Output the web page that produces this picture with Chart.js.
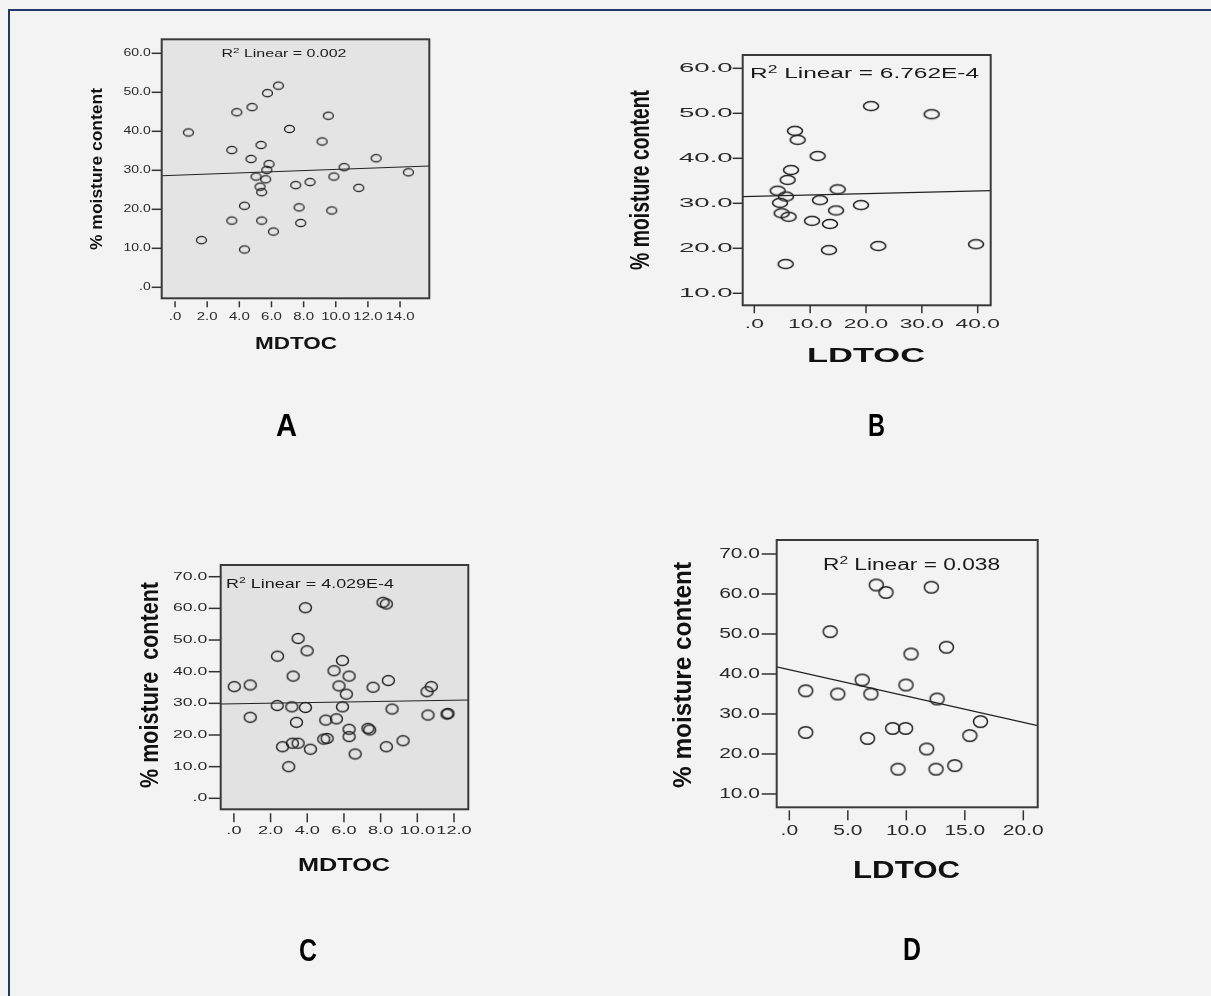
<!DOCTYPE html>
<html>
<head>
<meta charset="utf-8">
<script src="https://cdn.jsdelivr.net/npm/chart.js@4.4.1/dist/chart.umd.min.js"></script>
<style>
html,body{margin:0;padding:0;background:#f3f3f3;width:1211px;height:996px;overflow:hidden;position:relative;}
#frame{position:absolute;left:8px;top:9px;width:1400px;height:1200px;border-left:2px solid #1f3864;border-top:2px solid #1f3864;box-sizing:border-box;}
canvas{position:absolute;left:0;top:0;}
</style>
</head>
<body>
<div id="frame"></div>
<canvas id="cA" width="1211" height="996"></canvas>
<canvas id="cB" width="1211" height="996"></canvas>
<canvas id="cC" width="1211" height="996"></canvas>
<canvas id="cD" width="1211" height="996"></canvas>
<script>
// ---------------- DATA ----------------
// Panel A: MDTOC vs % moisture content
const aX = [0.83,1.64,3.84,4.79,5.75,6.43,3.53,4.73,5.35,5.85,5.71,5.04,5.64,5.29,5.39,4.32,3.53,4.32,5.39,6.12,7.12,7.51,8.40,7.72,7.82,9.15,9.54,9.88,9.75,10.52,11.43,12.51,14.52];
const aY = [39.7,12.1,44.9,46.2,49.8,51.7,35.2,32.9,36.5,31.6,30.1,28.4,27.7,25.8,24.4,20.9,17.1,9.7,17.1,14.3,40.6,26.2,27.0,20.5,16.5,37.4,44.0,28.4,19.7,30.8,25.5,33.1,29.5];
const aFitX = [-0.83, 15.82];
const aFitY = [28.6, 31.1];
const aXTicks = [0,2,4,6,8,10,12,14];
const aYTicks = [0,10,20,30,40,50,60];
const aR2 = "0.002";

// Panel B: LDTOC vs % moisture content
const bX = [4.18,4.6,4.9,5.67,6.15,5.97,6.57,7.28,7.76,5.61,10.33,11.34,11.76,13.55,14.63,14.93,13.37,19.1,20.9,22.2,31.76,39.7];
const bY = [32.8,30.1,27.8,31.5,27.0,35.2,37.4,46.1,44.1,16.5,26.1,40.5,30.7,25.4,28.4,33.1,19.6,29.6,51.6,20.5,49.8,20.9];
const bFitX = [-2.08, 42.33];
const bFitY = [31.5, 32.8];
const bXTicks = [0,10,20,30,40];
const bYTicks = [10,20,30,40,50,60];
const bR2 = "6.762E-4";

// Panel C: MDTOC vs % moisture content
const cX = [0.02,0.89,0.89,2.38,2.36,2.65,2.99,3.16,3.23,3.50,3.41,3.19,3.50,3.90,3.99,3.90,4.17,5.01,4.90,5.08,5.46,5.59,5.92,5.73,6.13,5.92,6.28,6.28,6.28,6.61,7.31,7.40,7.59,8.13,8.31,8.42,8.31,8.62,9.22,10.53,10.76,10.58,11.62,11.67];
const cY = [35.3,35.8,25.6,44.9,29.3,16.3,10.0,28.9,38.6,50.5,24.0,17.4,17.4,60.2,46.6,28.7,15.5,24.7,18.7,18.9,40.3,25.1,43.5,35.5,32.9,28.9,38.6,21.8,19.5,14.0,22.1,21.6,35.1,61.9,61.4,37.2,16.3,28.2,18.2,33.7,35.3,26.3,26.6,26.8];
const cFitX = [-0.72, 12.78];
const cFitY = [29.8, 31.05];
const cXTicks = [0,2,4,6,8,10,12];
const cYTicks = [0,10,20,30,40,50,60,70];
const cR2 = "4.029E-4";

// Panel D: LDTOC vs % moisture content
const dX = [1.4,1.4,3.49,4.14,6.23,6.97,6.69,7.43,8.26,8.83,9.94,9.29,9.97,10.4,12.14,11.74,12.63,12.54,13.43,14.14,15.43,16.34];
const dY = [35.8,25.4,50.6,35.0,38.5,35.0,23.9,62.25,60.4,26.4,26.4,16.2,37.25,45.0,61.7,21.25,33.75,16.2,46.7,17.1,24.6,28.1];
const dFitX = [-1.08, 21.23];
const dFitY = [41.8, 27.1];
const dXTicks = [0,5,10,15,20];
const dYTicks = [10,20,30,40,50,60,70];
const dR2 = "0.038";

const yTitleText = "% moisture content";

// ---------------- LAYOUT / STYLE ----------------
const W = 1211, H = 996;
const FONT = '"Liberation Sans", Arial, sans-serif';

const panels = [
  { canvas:'cA', xs:aX, ys:aY, fitX:aFitX, fitY:aFitY, xTicks:aXTicks, yTicks:aYTicks, r2:aR2,
    xTitle:'MDTOC', yTitle:yTitleText, letter:'A',
    box:{l:161.7,t:39.3,r:429.3,b:298.3}, xr:[-0.83,15.82], yr:[-2.82,63.59], fill:'#e4e4e4',
    pt:{rx:5,ry:3.6,lw:1.3},
    yTick:{font:10,sx:1.4,len:10,gap:11}, xTick:{font:10,sx:1.5,start:3,len:6,labelY:317},
    yT:{font:17,len:162,cx:95.5,cy:169}, xT:{font:16,len:82,cx:296,cy:343},
    r2s:{font:11,w:125,x:284,cy:53.5,align:'center'}, let:{cx:286.5,cy:424.5,w:21} },
  { canvas:'cB', xs:bX, ys:bY, fitX:bFitX, fitY:bFitY, xTicks:bXTicks, yTicks:bYTicks, r2:bR2,
    xTitle:'LDTOC', yTitle:yTitleText, letter:'B',
    box:{l:742.7,t:55,r:990.7,b:305.3}, xr:[-2.08,42.33], yr:[7.33,62.96], fill:null,
    pt:{rx:7.5,ry:4.5,lw:1.6},
    yTick:{font:12,sx:2.3,len:10,gap:10}, xTick:{font:12,sx:1.9,start:0,len:8,labelY:325},
    yT:{font:28,len:180,cx:639,cy:180}, xT:{font:20,len:118,cx:866,cy:354.5},
    r2s:{font:14,w:229,x:750,cy:73,align:'left'}, let:{cx:876.5,cy:425,w:17} },
  { canvas:'cC', xs:cX, ys:cY, fitX:cFitX, fitY:cFitY, xTicks:cXTicks, yTicks:cYTicks, r2:cR2,
    xTitle:'MDTOC', yTitle:'% moisture  content', letter:'C',
    box:{l:220.7,t:565,r:468.3,b:809.3}, xr:[-0.72,12.78], yr:[-3.47,73.7], fill:'#e2e2e2',
    pt:{rx:6,ry:5,lw:1.4},
    yTick:{font:11,sx:1.6,len:12,gap:13.4}, xTick:{font:11,sx:1.65,start:4,len:9,labelY:831},
    yT:{font:26,len:206,cx:148.5,cy:685}, xT:{font:18,len:92,cx:344,cy:864.5},
    r2s:{font:13,w:168,x:226,cy:583.5,align:'left'}, let:{cx:308,cy:950,w:18} },
  { canvas:'cD', xs:dX, ys:dY, fitX:dFitX, fitY:dFitY, xTicks:dXTicks, yTicks:dYTicks, r2:dR2,
    xTitle:'LDTOC', yTitle:yTitleText, letter:'D',
    box:{l:776.7,t:540,r:1037.7,b:807.3}, xr:[-1.08,21.23], yr:[6.67,73.5], fill:null,
    pt:{rx:7,ry:5.8,lw:1.5},
    yTick:{font:14,sx:1.5,len:15,gap:16.7}, xTick:{font:14,sx:1.5,start:3,len:10,labelY:831.5},
    yT:{font:25,len:226,cx:682.5,cy:675}, xT:{font:23,len:107,cx:906.5,cy:869.5},
    r2s:{font:16,w:177,x:823,cy:564,align:'left'}, let:{cx:912,cy:948.5,w:18} }
];

function fmt(v){ return v === 0 ? '.0' : v.toFixed(1); }

function makeEllipse(rx, ry, lw, color){
  const c = document.createElement('canvas');
  c.width = Math.ceil(2*rx + lw + 3); c.height = Math.ceil(2*ry + lw + 3);
  const g = c.getContext('2d');
  g.strokeStyle = color; g.lineWidth = lw;
  g.beginPath(); g.ellipse(c.width/2, c.height/2, rx, ry, 0, 0, Math.PI*2); g.stroke();
  return c;
}

// draw text with horizontal stretch factor sx (in text direction)
function stretchText(ctx, text, x, y, font, sx, align, baseline, rot){
  ctx.save();
  ctx.translate(x, y);
  if (rot) ctx.rotate(-Math.PI/2);
  ctx.scale(sx, 1);
  ctx.font = font; ctx.textAlign = align; ctx.textBaseline = baseline;
  ctx.fillText(text, 0, 0);
  ctx.restore();
}
function fitText(ctx, text, cx, cy, font, targetLen, rot, capRatio, size){
  ctx.save();
  ctx.font = font;
  const w = ctx.measureText(text).width;
  const sx = targetLen / w;
  ctx.translate(cx, cy);
  if (rot) ctx.rotate(-Math.PI/2);
  ctx.scale(sx, 1);
  ctx.textAlign = 'center'; ctx.textBaseline = 'alphabetic';
  ctx.fillText(text, 0, size*0.358);
  ctx.restore();
}

const panelPlugin = {
  id: 'panel',
  beforeDatasetsDraw(chart){
    const p = chart.options.plugins.panel.cfg;
    const ctx = chart.ctx, a = chart.chartArea;
    if (p.fill){ ctx.save(); ctx.fillStyle = p.fill; ctx.fillRect(a.left, a.top, a.right-a.left, a.bottom-a.top); ctx.restore(); }
  },
  afterDatasetsDraw(chart){
    const p = chart.options.plugins.panel.cfg;
    const ctx = chart.ctx, a = chart.chartArea;
    const xs = chart.scales.x, ys = chart.scales.y;
    ctx.save();
    // box
    ctx.strokeStyle = '#3a3a3a'; ctx.lineWidth = 2;
    ctx.strokeRect(a.left, a.top, a.right-a.left, a.bottom-a.top);
    // y ticks
    ctx.strokeStyle = '#333'; ctx.lineWidth = 1.5; ctx.fillStyle = '#2a2a2a';
    p.yTicks.forEach(v => {
      const py = ys.getPixelForValue(v);
      ctx.beginPath(); ctx.moveTo(a.left - p.yTick.len, py); ctx.lineTo(a.left, py); ctx.stroke();
      stretchText(ctx, fmt(v), a.left - p.yTick.gap, py, p.yTick.font + 'px ' + FONT, p.yTick.sx, 'right', 'middle', false);
    });
    // x ticks
    p.xTicks.forEach(v => {
      const px = xs.getPixelForValue(v);
      ctx.beginPath(); ctx.moveTo(px, a.bottom + p.xTick.start); ctx.lineTo(px, a.bottom + p.xTick.start + p.xTick.len); ctx.stroke();
      stretchText(ctx, fmt(v), px, p.xTick.labelY, p.xTick.font + 'px ' + FONT, p.xTick.sx, 'center', 'middle', false);
    });
    // titles
    ctx.fillStyle = '#111';
    fitText(ctx, p.yTitle, p.yT.cx, p.yT.cy, 'bold ' + p.yT.font + 'px ' + FONT, p.yT.len, true, 0, p.yT.font);
    fitText(ctx, p.xTitle, p.xT.cx, p.xT.cy, 'bold ' + p.xT.font + 'px ' + FONT, p.xT.len, false, 0, p.xT.font);
    // R2 label
    const r = p.r2s, fs = r.font;
    const f1 = fs + 'px ' + FONT, f2 = Math.round(fs*0.7) + 'px ' + FONT;
    const rest = ' Linear = ' + p.r2;
    ctx.font = f1; const wR = ctx.measureText('R').width, wRest = ctx.measureText(rest).width;
    ctx.font = f2; const w2 = ctx.measureText('2').width;
    const tot = wR + w2 + wRest, sx = r.w / tot;
    const x0 = r.align === 'center' ? r.x - r.w/2 : r.x;
    ctx.fillStyle = '#1a1a1a';
    ctx.translate(x0, r.cy + fs*0.358);
    ctx.scale(sx, 1);
    ctx.textAlign = 'left'; ctx.textBaseline = 'alphabetic';
    ctx.font = f1; ctx.fillText('R', 0, 0);
    ctx.font = f2; ctx.fillText('2', wR, -fs*0.38);
    ctx.font = f1; ctx.fillText(rest, wR + w2, 0);
    ctx.restore();
    // panel letter
    ctx.save();
    ctx.fillStyle = '#000';
    fitText(ctx, p.letter, p.let.cx, p.let.cy, 'bold 31px ' + FONT, p.let.w, false, 0, 31);
    ctx.restore();
  }
};

panels.forEach(p => {
  const pts = p.xs.map((x, i) => ({x: x, y: p.ys[i]}));
  const fit = p.fitX.map((x, i) => ({x: x, y: p.fitY[i]}));
  new Chart(document.getElementById(p.canvas), {
    type: 'scatter',
    data: {
      datasets: [
        { data: pts, pointStyle: makeEllipse(p.pt.rx, p.pt.ry, p.pt.lw, '#222'),
          pointRadius: p.pt.rx, pointHoverRadius: p.pt.rx, borderColor: '#222', backgroundColor: 'rgba(0,0,0,0)' },
        { type: 'line', data: fit, borderColor: '#222', borderWidth: 1.2, pointRadius: 0, fill: false, tension: 0 }
      ]
    },
    options: {
      responsive: false, animation: false, devicePixelRatio: 1,
      events: [],
      layout: { padding: { left: p.box.l, top: p.box.t, right: W - p.box.r, bottom: H - p.box.b } },
      scales: {
        x: { type: 'linear', display: false, min: p.xr[0], max: p.xr[1] },
        y: { type: 'linear', display: false, min: p.yr[0], max: p.yr[1] }
      },
      plugins: { legend: { display: false }, tooltip: { enabled: false }, panel: { cfg: p } }
    },
    plugins: [panelPlugin]
  });
});
</script>
</body>
</html>
